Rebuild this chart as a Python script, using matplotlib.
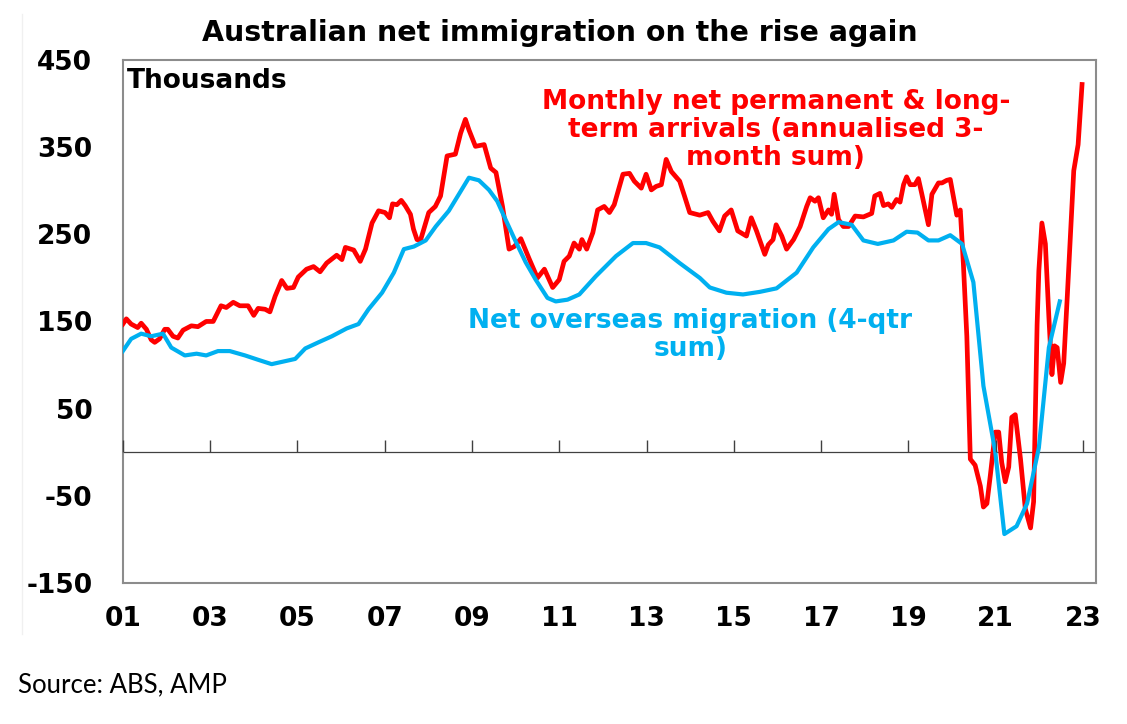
import numpy as np
import matplotlib
matplotlib.use("Agg")
import matplotlib.pyplot as plt
from matplotlib.lines import Line2D

plt.rcParams["axes.unicode_minus"] = False

# monthly net permanent & long-term arrivals (annualised 3m sum), '000
red_t = [2001.00, 2001.08, 2001.19, 2001.34, 2001.42, 2001.54, 2001.65, 2001.73, 2001.84, 2001.96,
         2002.03, 2002.15, 2002.26, 2002.38, 2002.57, 2002.72, 2002.91, 2003.07, 2003.25, 2003.37,
         2003.53, 2003.68, 2003.87, 2004.00, 2004.10, 2004.26, 2004.37, 2004.49, 2004.64, 2004.76,
         2004.91, 2005.02, 2005.21, 2005.37, 2005.52, 2005.67, 2005.90, 2006.02, 2006.10, 2006.29,
         2006.44, 2006.56, 2006.71, 2006.86, 2007.01, 2007.11, 2007.18, 2007.28, 2007.38, 2007.47,
         2007.59, 2007.66, 2007.74, 2007.82, 2008.01, 2008.16, 2008.28, 2008.43, 2008.62, 2008.74,
         2008.85, 2008.93, 2009.08, 2009.28, 2009.43, 2009.55, 2009.70, 2009.85, 2009.97, 2010.12,
         2010.31, 2010.50, 2010.66, 2010.85, 2011.00, 2011.11, 2011.23, 2011.34, 2011.46, 2011.52,
         2011.63, 2011.77, 2011.88, 2012.03, 2012.15, 2012.26, 2012.46, 2012.61, 2012.72, 2012.88,
         2012.99, 2013.11, 2013.22, 2013.34, 2013.45, 2013.57, 2013.76, 2013.87, 2013.99, 2014.22,
         2014.41, 2014.52, 2014.67, 2014.79, 2014.94, 2015.09, 2015.29, 2015.40, 2015.52, 2015.71,
         2015.79, 2015.90, 2015.97, 2016.10, 2016.21, 2016.37, 2016.52, 2016.67, 2016.75, 2016.86,
         2016.94, 2017.05, 2017.17, 2017.24, 2017.30, 2017.40, 2017.51, 2017.63, 2017.78, 2017.97,
         2018.16, 2018.23, 2018.35, 2018.43, 2018.54, 2018.62, 2018.73, 2018.81, 2018.89, 2018.96,
         2019.04, 2019.15, 2019.23, 2019.31, 2019.46, 2019.54, 2019.69, 2019.77, 2019.88, 2019.96,
         2020.03, 2020.11, 2020.19, 2020.26, 2020.34, 2020.42, 2020.53, 2020.65, 2020.72, 2020.80,
         2020.88, 2020.99, 2021.07, 2021.14, 2021.22, 2021.30, 2021.37, 2021.45, 2021.57, 2021.68,
         2021.80, 2021.87, 2021.95, 2021.99, 2022.06, 2022.14, 2022.22, 2022.29, 2022.35, 2022.41,
         2022.49, 2022.56, 2022.64, 2022.72, 2022.79, 2022.89, 2022.98]
red_v = [147, 153, 147, 143, 148, 141, 129, 126, 130, 141,
         141, 133, 131, 140, 145, 144, 150, 150, 168, 166,
         172, 168, 168, 157, 165, 164, 161, 179, 197, 188,
         189, 201, 210, 213, 207, 217, 226, 221, 235, 232,
         219, 233, 263, 277, 275, 269, 285, 284, 289, 283,
         273, 256, 244, 243, 275, 282, 294, 340, 342, 366,
         382, 370, 351, 353, 326, 321, 282, 233, 236, 245,
         222, 200, 210, 189, 198, 219, 225, 240, 233, 244,
         233, 252, 278, 282, 275, 284, 319, 320, 311, 303,
         319, 301, 305, 307, 336, 322, 311, 294, 275, 272,
         275, 265, 254, 271, 278, 254, 248, 269, 254, 227,
         238, 244, 261, 248, 233, 244, 259, 282, 292, 288,
         292, 269, 278, 273, 296, 267, 259, 259, 271, 270,
         274, 294, 297, 283, 285, 281, 290, 287, 307, 316,
         307, 307, 314, 296, 261, 296, 309, 309, 312, 313,
         294, 272, 278, 217, 133, -8, -15, -39, -63, -59,
         -26, 23, 23, -12, -34, -17, 40, 43, -8, -65,
         -87, -57, 146, 208, 263, 239, 155, 89, 122, 120,
         80, 102, 177, 256, 323, 353, 422]

# net overseas migration, 4-quarter sum, '000
blue_t = [2001.00, 2001.19, 2001.42, 2001.65, 2001.92, 2002.11, 2002.42, 2002.69, 2002.91, 2003.18,
          2003.45, 2003.80, 2004.10, 2004.41, 2004.68, 2004.95, 2005.18, 2005.48, 2005.79, 2006.13,
          2006.40, 2006.63, 2006.94, 2007.21, 2007.44, 2007.67, 2007.94, 2008.17, 2008.47, 2008.70,
          2008.93, 2009.16, 2009.39, 2009.58, 2009.77, 2010.00, 2010.23, 2010.46, 2010.73, 2010.92,
          2011.19, 2011.46, 2011.84, 2012.30, 2012.69, 2012.99, 2013.30, 2013.76, 2014.22, 2014.45,
          2014.83, 2015.21, 2015.60, 2015.98, 2016.44, 2016.82, 2017.17, 2017.40, 2017.70, 2017.97,
          2018.30, 2018.66, 2018.96, 2019.21, 2019.46, 2019.69, 2019.96, 2020.23, 2020.49, 2020.72,
          2020.99, 2021.20, 2021.48, 2021.72, 2021.99, 2022.22, 2022.47]
blue_v = [116, 130, 136, 133, 136, 120, 111, 113, 111, 116,
          116, 111, 106, 101, 104, 107, 119, 126, 133, 142,
          147, 164, 183, 206, 233, 236, 243, 259, 277, 296,
          315, 312, 301, 288, 267, 242, 218, 198, 177, 173,
          175, 181, 202, 225, 240, 240, 235, 217, 200, 189,
          183, 181, 184, 188, 206, 235, 256, 264, 261, 243,
          239, 243, 253, 252, 243, 243, 249, 239, 195, 76,
          1, -94, -85, -59, 5, 120, 173]

year_ticks = list(range(2001, 2024, 2))
year_labels = ["%02d" % (y % 100) for y in year_ticks]
y_ticks = [-150, -50, 50, 150, 250, 350, 450]

RED = "#FF0000"
BLUE = "#00B0F0"
BOLD = "DejaVu Sans"

fig = plt.figure(figsize=(11.27, 7.24), dpi=100)
ax = fig.add_axes([0.109, 0.195, 0.8635, 0.722])

ax.plot(red_t, red_v, color=RED, lw=3.4, solid_joinstyle="round", zorder=3)
ax.plot(blue_t, blue_v, color=BLUE, lw=3.0, solid_joinstyle="round", zorder=4)
ax.axhline(0, color="#404040", lw=0.9, zorder=2)

ax.set_xlim(2001, 2023.3)
ax.set_ylim(-150, 450)
ax.set_xticks(year_ticks)
ax.set_xticklabels(year_labels)
ax.set_yticks(y_ticks)
ax.tick_params(axis="both", length=0, labelsize=19)
ax.tick_params(axis="x", pad=17)
ax.tick_params(axis="y", pad=22)
for lab in ax.get_xticklabels() + ax.get_yticklabels():
    lab.set_fontfamily(BOLD)
    lab.set_fontweight("bold")
for s in ax.spines.values():
    s.set_color("#8c8c8c")
    s.set_linewidth(1.5)

# small ticks sitting on the zero line
ax2 = ax.twiny()
ax2.set_xlim(ax.get_xlim())
ax2.set_xticks(year_ticks)
ax2.xaxis.set_ticks_position("bottom")
ax2.spines["bottom"].set_position(("data", 0))
for k in ["top", "left", "right", "bottom"]:
    ax2.spines[k].set_visible(False)
ax2.tick_params(axis="x", direction="in", length=9, width=1, color="#404040",
                labelbottom=False, labeltop=False)

ax.text(0.004, 0.985, "Thousands", transform=ax.transAxes, ha="left", va="top",
        fontsize=19, fontweight="bold", family=BOLD, color="black")
ax.text(2015.96, 370, "Monthly net permanent & long-\nterm arrivals (annualised 3-\nmonth sum)",
        ha="center", va="center", fontsize=19, fontweight="bold", family=BOLD,
        color=RED, linespacing=1.1)
ax.text(2014.0, 134, "Net overseas migration (4-qtr\nsum)", ha="center", va="center",
        fontsize=19, fontweight="bold", family=BOLD, color=BLUE, linespacing=1.1)

fig.text(0.497, 0.955, "Australian net immigration on the rise again", ha="center",
         va="center", fontsize=20.5, fontweight="bold", family=BOLD)
fig.text(0.016, 0.054, "Source: ABS, AMP", ha="left", va="center", fontsize=18.5,
         family="Lato")
fig.add_artist(Line2D([0.0195, 0.0195], [0.125, 0.98], transform=fig.transFigure,
                      color="#f0f0f0", lw=1))

fig.savefig("out.png", dpi=100)
